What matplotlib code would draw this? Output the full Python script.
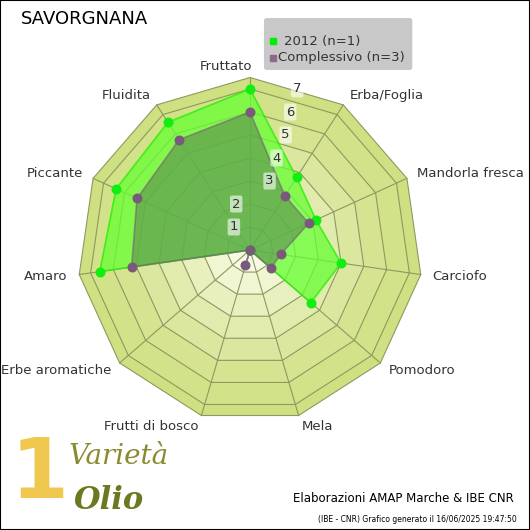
import numpy as np
import matplotlib.pyplot as plt
from matplotlib.patches import Polygon, Rectangle, FancyBboxPatch

categories = ['Fruttato', 'Erba/Foglia', 'Mandorla fresca', 'Carciofo', 'Pomodoro', 'Mela',
              'Frutti di bosco', 'Erbe aromatiche', 'Amaro', 'Piccante', 'Fluidita']
val_2012 = [7.0, 3.75, 3.15, 4.0, 3.5, 0.0, 0.0, 0.0, 6.6, 6.4, 6.6]
val_tot = [6.0, 2.8, 2.8, 1.35, 1.2, 0.0, 0.7, 0.0, 5.2, 5.4, 5.7]
ring_labels = ['1', '2', '3', '4', '5', '6', '7']
ring_dx = [-0.7, -0.6, 0.85, 1.15, 1.55, 1.75, 2.05]

n = len(categories)
ang = np.pi / 2 - np.arange(n) * 2 * np.pi / n
R = 7.5
LIM = 7.875

def xy(vals):
    v = np.asarray(vals)
    return np.column_stack([v * np.cos(ang), v * np.sin(ang)])

fig = plt.figure(figsize=(5.3, 5.3), dpi=100)
fig.patches.append(Rectangle((0, 0), 1, 1, transform=fig.transFigure, fill=False,
                             edgecolor='black', lw=1.5))
# center at (250,250) px from top-left, 23 px per unit
w = 2 * LIM * 23 / 530
ax = fig.add_axes([250 / 530 - w / 2, (530 - 250) / 530 - w / 2, w, w])
ax.set_xlim(-LIM, LIM)
ax.set_ylim(-LIM, LIM)
ax.set_aspect('equal')
ax.axis('off')

# background bands
band_cols = ['#f7f9e4', '#f0f5d2', '#e9f0bf', '#e2ebae', '#dbe79f', '#d6e492', '#d2e289', '#cfe082']
levels = [1, 2, 3, 4, 5, 6, 7, 7.5]
for lv, c in reversed(list(zip(levels, band_cols))):
    ax.add_patch(Polygon(xy([lv] * n), closed=True, facecolor=c, edgecolor='none', zorder=1))
for lv in levels:
    ax.add_patch(Polygon(xy([lv] * n), closed=True, fill=False, edgecolor='#8a9a60', lw=0.8, zorder=2))
for p in xy([R] * n):
    ax.plot([0, p[0]], [0, p[1]], color='#8a9a60', lw=0.8, zorder=2)

# series
g = xy(val_2012)
ax.add_patch(Polygon(g, closed=True, facecolor='#66ff33', alpha=0.75, edgecolor='#22ee00', lw=1.2, zorder=3))
ax.scatter(g[:, 0], g[:, 1], s=38, color='#11ee11', zorder=5)
t = xy(val_tot)
ax.add_patch(Polygon(t, closed=True, facecolor='#5a8a50', alpha=0.6, edgecolor='#7a5a7a', lw=1.2, zorder=4))
ax.scatter(t[:, 0], t[:, 1], s=38, color='#7a5a7a', zorder=6)

for i, lab in enumerate(ring_labels):
    ax.text(ring_dx[i], i + 1, lab, ha='center', va='center', fontsize=9.5,
            color='#333333', zorder=7,
            bbox=dict(boxstyle='round,pad=0.15', fc='white', ec='none', alpha=0.6))

for a, lab in zip(ang, categories):
    x, y = 8.0 * np.cos(a), 8.0 * np.sin(a)
    c = np.cos(a)
    if lab == 'Fruttato':
        ha, x = 'right', 0.1
    else:
        ha = 'center' if abs(c) < 0.2 else ('left' if c > 0 else 'right')
    ax.text(x, y, lab, ha=ha, va='center', fontsize=9.5, color='#333333')

fig.text(0.04, 0.965, 'SAVORGNANA', fontsize=13, va='center')

# legend
fig.patches.append(FancyBboxPatch((0.503, 0.873), 0.27, 0.088, transform=fig.transFigure,
                                  boxstyle='round,pad=0.005', fc='#c8c8c8', ec='none'))
fig.patches.append(Rectangle((0.51, 0.917), 0.011, 0.011, transform=fig.transFigure, color='#00ee00'))
fig.patches.append(Rectangle((0.51, 0.885), 0.011, 0.011, transform=fig.transFigure, color='#8a6a8a'))
fig.text(0.535, 0.922, '2012 (n=1)', fontsize=9.5, va='center', color='#333333')
fig.text(0.525, 0.891, 'Complessivo (n=3)', fontsize=9.5, va='center', color='#333333')

# logo
fig.text(0.13, 0.125, 'Varietà', fontsize=20, style='italic', color='#8a8a30', family='DejaVu Serif')
fig.text(0.14, 0.04, 'Olio', fontsize=22, style='italic', fontweight='bold', color='#6a7a20', family='DejaVu Serif')
fig.text(0.02, 0.06, '1', fontsize=60, color='#f0c850', fontweight='bold')

fig.text(0.97, 0.06, 'Elaborazioni AMAP Marche & IBE CNR', fontsize=8.5, ha='right', va='center')
fig.text(0.975, 0.02, '(IBE - CNR) Grafico generato il 16/06/2025 19:47:50', fontsize=5.5, ha='right', va='center')

fig.savefig('out.png', dpi=100)
